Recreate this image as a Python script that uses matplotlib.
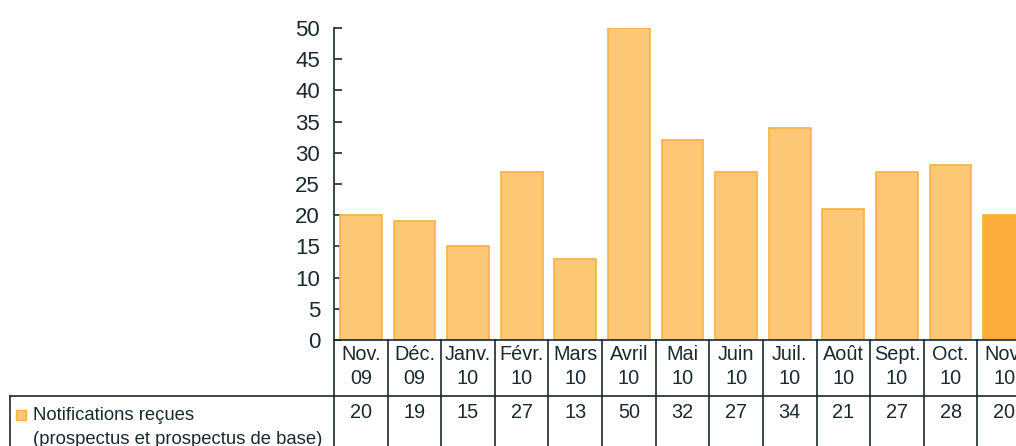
import matplotlib
matplotlib.use("Agg")
import matplotlib.pyplot as plt
from matplotlib.transforms import blended_transform_factory
from matplotlib.lines import Line2D
from matplotlib.patches import Rectangle

months = ["Nov.", "Déc.", "Janv.", "Févr.", "Mars", "Avril", "Mai", "Juin", "Juil.", "Août", "Sept.", "Oct.", "Nov."]
years = ["09", "09", "10", "10", "10", "10", "10", "10", "10", "10", "10", "10", "10"]
values = [20, 19, 15, 27, 13, 50, 32, 27, 34, 21, 27, 28, 20]
series_label = "Notifications reçues\n(prospectus et prospectus de base)"
yticks = list(range(0, 51, 5))

plt.rcParams['font.family'] = ['Liberation Sans', 'DejaVu Sans']
TXT = '#1a2830'
FILL = '#FCC876'
EDGE = '#F9B043'
LAST = '#FBAD3A'

W, H = 1016, 446
fig = plt.figure(figsize=(W/100, H/100), dpi=100)

x0, x1 = 334, 1031
y0, ytop = 340, 28
ax = fig.add_axes([x0/W, (H-y0)/H, (x1-x0)/W, (y0-ytop)/H])

n = len(values)
xs = list(range(n))
colors = [FILL]*(n-1) + [LAST]
edges = [EDGE]*(n-1) + [LAST]
ax.bar(xs, values, width=0.78, color=colors, edgecolor=edges, linewidth=1.2, zorder=2)
ax.set_xlim(-0.5, n-0.5)
ax.set_ylim(0, 50)
ax.set_yticks(yticks)
ax.tick_params(axis='y', direction='in', length=5.5, width=1.2, color=TXT,
               labelsize=16, labelcolor=TXT, pad=10)
ax.set_xticks([])
for s in ['top', 'right']:
    ax.spines[s].set_visible(False)
for s in ['left', 'bottom']:
    ax.spines[s].set_color(TXT)
    ax.spines[s].set_linewidth(1.2)

# table below the chart
trans = blended_transform_factory(ax.transData, fig.transFigure)
def fy(py):
    return (H - py) / H

lw = 1.2
for i in range(n + 1):
    xb = i - 0.5
    fig.add_artist(Line2D([xb, xb], [fy(340), fy(446)], transform=trans, color=TXT, lw=lw, clip_on=False))
fig.add_artist(Line2D([10/W, 1.0], [fy(396), fy(396)], transform=fig.transFigure, color=TXT, lw=lw))
fig.add_artist(Line2D([10/W, 10/W], [fy(396), fy(446)], transform=fig.transFigure, color=TXT, lw=lw))

fs = 14.3
for i in range(n):
    fig.text(i, fy(355), months[i], transform=trans, ha='center', va='center', fontsize=fs, color=TXT)
    fig.text(i, fy(379), years[i], transform=trans, ha='center', va='center', fontsize=fs, color=TXT)
    fig.text(i, fy(413), str(values[i]), transform=trans, ha='center', va='center', fontsize=fs, color=TXT)

fig.add_artist(Rectangle((16/W, fy(420)), 10/W, 10/H, transform=fig.transFigure,
                         facecolor=FILL, edgecolor=EDGE, lw=1))
line1, line2 = series_label.split("\n")
fig.text(33/W, fy(415), line1, ha='left', va='center', fontsize=13.3, color=TXT)
fig.text(33/W, fy(439), line2, ha='left', va='center', fontsize=13.3, color=TXT)

fig.savefig("out.png", dpi=100)
